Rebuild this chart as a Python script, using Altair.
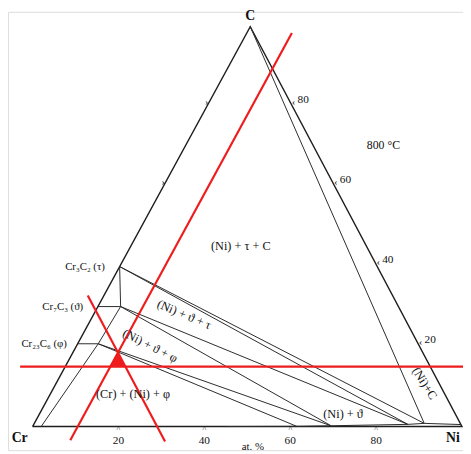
import altair as alt
import pandas as pd

# ---------------- data: compositions as (Ni at.%, C at.%) ----------------
K = 221.5 / 437.0          # horizontal shift of the C apex (drawing proportion)

corner_cr = (0.0, 0.0)
corner_ni = (100.0, 0.0)
corner_c = (0.0, 100.0)
tau = (0.0, 40.0)
theta0 = (0.0, 30.0)
theta1 = (5.3, 30.0)
phi0 = (0.0, 20.7)
phi1 = (4.8, 20.7)
cr_sat = (2.0, 0.0)
ni_p1 = (90.8, 0.8)
ni_p2 = (87.1, 0.55)
ni_p3 = (69.4, 0.2)
ni_p4 = (61.5, 0.05)
ni_left = (45.0, 0.0)
ni_edge = (99.5, 0.5)

outline = [corner_cr, corner_ni, corner_c, corner_cr]
phase_lines = [
    [cr_sat, phi1],
    [phi0, phi1],
    [phi1, theta1],
    [theta0, theta1],
    [theta1, tau],
    [tau, ni_p1],
    [tau, ni_p2],
    [theta1, ni_p2],
    [theta1, ni_p3],
    [phi1, ni_p3],
    [phi1, ni_p4],
    [corner_c, ni_p1],
    [ni_left, ni_p4, ni_p3, ni_p2, ni_p1, ni_edge],
]

# red guide lines: Ni = 10.5, Cr = 71, C = 15
red_ni = 10.5
red_cr = 71.0
red_c = 15.0
red_lines = [
    [(red_ni, -3.4), (red_ni, 98.4)],
    [(100 - red_cr + 3.75, -3.75), (-3.75, 100 - red_cr + 3.75)],
    [(-10.5, red_c), (95.0, red_c)],
]
red_tri = [(red_ni, 100 - red_cr - red_ni), (red_ni, red_c), (100 - red_cr - red_c, red_c)]

bottom_ticks = [20, 40, 60, 80]
right_ticks = [80, 60, 40, 20]
left_ticks = [80, 60]

region_labels = [
    ("(Ni) + τ + C", 48.5, 45.2, 0),
    ("(Ni) + ϑ + τ", 35.3, 28.0, 23),
    ("(Ni) + ϑ + φ", 27.4, 20.2, 27),
    ("(Cr) + (Ni) + φ", 23.4, 8.1, 0),
    ("(Ni) + ϑ", 72.3, 3.2, 0),
    ("(Ni)+C", 91.3, 10.8, 58),
]
phase_names = [
    ("Cr₃C₂ (τ)", 0.0, 40.0, -15),
    ("Cr₇C₃ (ϑ)", 0.0, 30.0, -15),
    ("Cr₂₃C₆ (φ)", 0.0, 20.7, -11),
]


def xy(ni, c):
    return ni + K * c, c


W, H = 463, 446
xs = alt.Scale(domain=[-25 / 4.37, (W - 25) / 4.37], nice=False, zero=False)
ys = alt.Scale(domain=[(422 - H) / 4.07, 422 / 4.07], nice=False, zero=False)
FONT = "Liberation Serif"


def seg_frame(polys):
    rows = []
    for i, poly in enumerate(polys):
        for j, (ni, c) in enumerate(poly):
            X, Y = xy(ni, c)
            rows.append({"seg": i, "o": j, "X": X, "Y": Y})
    return pd.DataFrame(rows)


def enc(ch):
    return ch.encode(
        x=alt.X("X:Q", scale=xs, axis=None),
        y=alt.Y("Y:Q", scale=ys, axis=None),
    )


outline_layer = enc(alt.Chart(seg_frame([outline])).mark_line(
    color="#1e1e1e", strokeWidth=1.4)).encode(detail="seg:N", order="o:Q")
phase_layer = enc(alt.Chart(seg_frame(phase_lines)).mark_line(
    color="#2a2a2a", strokeWidth=1.0)).encode(detail="seg:N", order="o:Q")
red_layer = enc(alt.Chart(seg_frame(red_lines)).mark_line(
    color="#ee1c1c", strokeWidth=2.2, clip=True)).encode(detail="seg:N", order="o:Q")

tri_rows = []
for ni, c in [red_tri[1], red_tri[0], red_tri[2]]:
    X, Y = xy(ni, c)
    tri_rows.append({"X": X, "Y": Y, "Y2": red_c})
red_fill = alt.Chart(pd.DataFrame(tri_rows)).mark_area(color="#ee1c1c", opacity=1).encode(
    x=alt.X("X:Q", scale=xs, axis=None),
    y=alt.Y("Y:Q", scale=ys, axis=None),
    y2="Y2:Q",
)


def text_layer(rows, **kw):
    df = pd.DataFrame(rows)
    return alt.Chart(df).mark_text(font=FONT, color="#111111", **kw).encode(
        x=alt.X("X:Q", scale=xs, axis=None),
        y=alt.Y("Y:Q", scale=ys, axis=None),
        text="t:N",
    )


layers = [outline_layer, phase_layer, red_layer, red_fill]

# region labels
for t, X, Y, ang in region_labels:
    layers.append(text_layer([{"t": t, "X": X, "Y": Y}], fontSize=12.5, angle=ang))

# phase name labels on the Cr-C edge
for t, ni, c, dx in phase_names:
    X, Y = xy(ni, c)
    layers.append(text_layer([{"t": t, "X": X, "Y": Y}], fontSize=11, align="right", dx=dx))

# corners and title
layers.append(text_layer([{"t": "C", "X": xy(*corner_c)[0], "Y": 102.7}], fontSize=14, fontWeight="bold"))
layers.append(text_layer([{"t": "Cr", "X": -3.0, "Y": -2.9}], fontSize=14, fontWeight="bold"))
layers.append(text_layer([{"t": "Ni", "X": 97.9, "Y": -2.9}], fontSize=14, fontWeight="bold"))
layers.append(text_layer([{"t": "800 °C", "X": 81.7, "Y": 70.3}], fontSize=12))
layers.append(text_layer([{"t": "at. %", "X": 51.3, "Y": -5.2}], fontSize=11))

# bottom axis ticks & labels
layers.append(text_layer([{"t": str(v), "X": v, "Y": -3.6} for v in bottom_ticks], fontSize=11.5))
layers.append(text_layer([{"t": "^", "X": v, "Y": -0.9} for v in bottom_ticks], fontSize=8))

# right edge (C content) ticks & labels
rrows, rticks = [], []
for v in right_ticks:
    X, Y = xy(100 - v, v)
    rrows.append({"t": str(v), "X": X, "Y": Y})
    rticks.append({"t": "‹", "X": X, "Y": Y})
layers.append(text_layer(rrows, fontSize=11.5, align="left", dx=5, dy=-7))
layers.append(text_layer(rticks, fontSize=10, align="center", dx=1, dy=-5))

# left edge ticks
lt = []
for v in left_ticks:
    X, Y = xy(0, v)
    lt.append({"t": "›", "X": X, "Y": Y})
layers.append(text_layer(lt, fontSize=10, align="center", dy=-5))

chart = alt.layer(*layers).properties(
    width=W, height=H, padding=0,
    autosize=alt.AutoSizeParams(type="none"),
).configure_view(stroke=None).configure(background="white")

chart.save("out.html", embed_options={"renderer": "svg", "actions": False})
